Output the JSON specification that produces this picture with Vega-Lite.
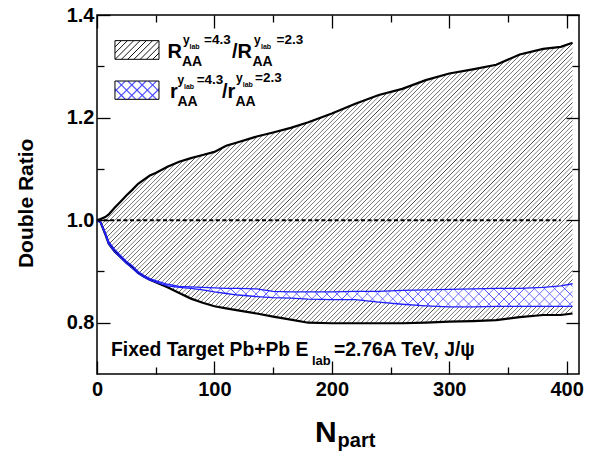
{
"$schema":"https://vega.github.io/schema/vega-lite/v6.json",
"autosize":{"type":"none"},
"padding":{"left":97,"top":15,"right":20,"bottom":80},
"width":482,"height":359,
"background":"#ffffff",
"config":{"view":{"stroke":"#000","strokeWidth":1.5}},
"data":{"values":[
{"x":0,"U":1.000,"L":1.000,"BU":1.000,"BL":1.000},
{"x":3,"U":1.002,"L":0.996,"BU":0.997,"BL":0.995},
{"x":7,"U":1.006,"L":0.973,"BU":0.976,"BL":0.972},
{"x":10,"U":1.011,"L":0.954,"BU":0.958,"BL":0.953},
{"x":15,"U":1.024,"L":0.939,"BU":0.943,"BL":0.938},
{"x":20,"U":1.036,"L":0.928,"BU":0.931,"BL":0.927},
{"x":25,"U":1.048,"L":0.917,"BU":0.920,"BL":0.916},
{"x":30,"U":1.059,"L":0.908,"BU":0.911,"BL":0.906},
{"x":35,"U":1.071,"L":0.897,"BU":0.900,"BL":0.896},
{"x":40,"U":1.079,"L":0.890,"BU":0.892,"BL":0.889},
{"x":45,"U":1.087,"L":0.884,"BU":0.886,"BL":0.883},
{"x":50,"U":1.092,"L":0.879,"BU":0.882,"BL":0.879},
{"x":60,"U":1.104,"L":0.869,"BU":0.875,"BL":0.872},
{"x":70,"U":1.114,"L":0.858,"BU":0.871,"BL":0.869},
{"x":80,"U":1.121,"L":0.847,"BU":0.870,"BL":0.867},
{"x":90,"U":1.127,"L":0.839,"BU":0.869,"BL":0.864},
{"x":100,"U":1.133,"L":0.832,"BU":0.868,"BL":0.860},
{"x":110,"U":1.145,"L":0.828,"BU":0.867,"BL":0.857},
{"x":120,"U":1.152,"L":0.824,"BU":0.867,"BL":0.854},
{"x":136,"U":1.163,"L":0.818,"BU":0.866,"BL":0.851},
{"x":150,"U":1.171,"L":0.812,"BU":0.861,"BL":0.849},
{"x":165,"U":1.180,"L":0.806,"BU":0.860,"BL":0.848},
{"x":180,"U":1.191,"L":0.800,"BU":0.860,"BL":0.846},
{"x":200,"U":1.208,"L":0.799,"BU":0.860,"BL":0.845},
{"x":220,"U":1.227,"L":0.799,"BU":0.861,"BL":0.845},
{"x":240,"U":1.244,"L":0.799,"BU":0.861,"BL":0.840},
{"x":260,"U":1.256,"L":0.799,"BU":0.863,"BL":0.836},
{"x":280,"U":1.273,"L":0.800,"BU":0.864,"BL":0.833},
{"x":300,"U":1.286,"L":0.802,"BU":0.865,"BL":0.831},
{"x":320,"U":1.294,"L":0.803,"BU":0.866,"BL":0.831},
{"x":340,"U":1.303,"L":0.805,"BU":0.867,"BL":0.832},
{"x":360,"U":1.323,"L":0.811,"BU":0.867,"BL":0.832},
{"x":380,"U":1.334,"L":0.815,"BU":0.869,"BL":0.832},
{"x":395,"U":1.338,"L":0.815,"BU":0.872,"BL":0.832},
{"x":405,"U":1.346,"L":0.818,"BU":0.876,"BL":0.832}
]},
"resolve":{"axis":{"x":"independent","y":"independent"}},
"layer":[
{"mark":{"type":"area","opacity":1,"fill":{"gradient":"linear","x1":0,"y1":0,"x2":1.1795,"y2":0.6957,"stops":[
{"offset":0,"color":"#444"},{"offset":0.001,"color":"#fff"},{"offset":0.005,"color":"#fff"},
{"offset":0.006,"color":"#444"},{"offset":0.007,"color":"#fff"},{"offset":0.011,"color":"#fff"},
{"offset":0.012,"color":"#444"},{"offset":0.013,"color":"#fff"},{"offset":0.017,"color":"#fff"},
{"offset":0.018,"color":"#444"},{"offset":0.019,"color":"#fff"},{"offset":0.023,"color":"#fff"},
{"offset":0.024,"color":"#444"},{"offset":0.025,"color":"#fff"},{"offset":0.029,"color":"#fff"},
{"offset":0.03,"color":"#444"},{"offset":0.031,"color":"#fff"},{"offset":0.035,"color":"#fff"},
{"offset":0.036,"color":"#444"},{"offset":0.037,"color":"#fff"},{"offset":0.041,"color":"#fff"},
{"offset":0.042,"color":"#444"},{"offset":0.043,"color":"#fff"},{"offset":0.047,"color":"#fff"},
{"offset":0.048,"color":"#444"},{"offset":0.049,"color":"#fff"},{"offset":0.053,"color":"#fff"},
{"offset":0.054,"color":"#444"},{"offset":0.055,"color":"#fff"},{"offset":0.059,"color":"#fff"},
{"offset":0.06,"color":"#444"},{"offset":0.061,"color":"#fff"},{"offset":0.065,"color":"#fff"},
{"offset":0.066,"color":"#444"},{"offset":0.067,"color":"#fff"},{"offset":0.071,"color":"#fff"},
{"offset":0.072,"color":"#444"},{"offset":0.073,"color":"#fff"},{"offset":0.077,"color":"#fff"},
{"offset":0.078,"color":"#444"},{"offset":0.079,"color":"#fff"},{"offset":0.083,"color":"#fff"},
{"offset":0.084,"color":"#444"},{"offset":0.085,"color":"#fff"},{"offset":0.089,"color":"#fff"},
{"offset":0.09,"color":"#444"},{"offset":0.091,"color":"#fff"},{"offset":0.095,"color":"#fff"},
{"offset":0.096,"color":"#444"},{"offset":0.097,"color":"#fff"},{"offset":0.101,"color":"#fff"},
{"offset":0.102,"color":"#444"},{"offset":0.103,"color":"#fff"},{"offset":0.107,"color":"#fff"},
{"offset":0.108,"color":"#444"},{"offset":0.109,"color":"#fff"},{"offset":0.113,"color":"#fff"},
{"offset":0.114,"color":"#444"},{"offset":0.115,"color":"#fff"},{"offset":0.119,"color":"#fff"},
{"offset":0.12,"color":"#444"},{"offset":0.121,"color":"#fff"},{"offset":0.125,"color":"#fff"},
{"offset":0.126,"color":"#444"},{"offset":0.127,"color":"#fff"},{"offset":0.131,"color":"#fff"},
{"offset":0.132,"color":"#444"},{"offset":0.133,"color":"#fff"},{"offset":0.137,"color":"#fff"},
{"offset":0.138,"color":"#444"},{"offset":0.139,"color":"#fff"},{"offset":0.143,"color":"#fff"},
{"offset":0.144,"color":"#444"},{"offset":0.145,"color":"#fff"},{"offset":0.149,"color":"#fff"},
{"offset":0.15,"color":"#444"},{"offset":0.151,"color":"#fff"},{"offset":0.155,"color":"#fff"},
{"offset":0.156,"color":"#444"},{"offset":0.157,"color":"#fff"},{"offset":0.161,"color":"#fff"},
{"offset":0.162,"color":"#444"},{"offset":0.163,"color":"#fff"},{"offset":0.167,"color":"#fff"},
{"offset":0.168,"color":"#444"},{"offset":0.169,"color":"#fff"},{"offset":0.173,"color":"#fff"},
{"offset":0.174,"color":"#444"},{"offset":0.175,"color":"#fff"},{"offset":0.179,"color":"#fff"},
{"offset":0.18,"color":"#444"},{"offset":0.181,"color":"#fff"},{"offset":0.185,"color":"#fff"},
{"offset":0.186,"color":"#444"},{"offset":0.187,"color":"#fff"},{"offset":0.191,"color":"#fff"},
{"offset":0.192,"color":"#444"},{"offset":0.193,"color":"#fff"},{"offset":0.197,"color":"#fff"},
{"offset":0.198,"color":"#444"},{"offset":0.199,"color":"#fff"},{"offset":0.203,"color":"#fff"},
{"offset":0.204,"color":"#444"},{"offset":0.205,"color":"#fff"},{"offset":0.209,"color":"#fff"},
{"offset":0.21,"color":"#444"},{"offset":0.211,"color":"#fff"},{"offset":0.215,"color":"#fff"},
{"offset":0.216,"color":"#444"},{"offset":0.217,"color":"#fff"},{"offset":0.221,"color":"#fff"},
{"offset":0.222,"color":"#444"},{"offset":0.223,"color":"#fff"},{"offset":0.227,"color":"#fff"},
{"offset":0.228,"color":"#444"},{"offset":0.229,"color":"#fff"},{"offset":0.233,"color":"#fff"},
{"offset":0.234,"color":"#444"},{"offset":0.235,"color":"#fff"},{"offset":0.239,"color":"#fff"},
{"offset":0.24,"color":"#444"},{"offset":0.241,"color":"#fff"},{"offset":0.245,"color":"#fff"},
{"offset":0.246,"color":"#444"},{"offset":0.247,"color":"#fff"},{"offset":0.251,"color":"#fff"},
{"offset":0.252,"color":"#444"},{"offset":0.253,"color":"#fff"},{"offset":0.257,"color":"#fff"},
{"offset":0.258,"color":"#444"},{"offset":0.259,"color":"#fff"},{"offset":0.263,"color":"#fff"},
{"offset":0.264,"color":"#444"},{"offset":0.265,"color":"#fff"},{"offset":0.269,"color":"#fff"},
{"offset":0.27,"color":"#444"},{"offset":0.271,"color":"#fff"},{"offset":0.275,"color":"#fff"},
{"offset":0.276,"color":"#444"},{"offset":0.277,"color":"#fff"},{"offset":0.281,"color":"#fff"},
{"offset":0.282,"color":"#444"},{"offset":0.283,"color":"#fff"},{"offset":0.287,"color":"#fff"},
{"offset":0.288,"color":"#444"},{"offset":0.289,"color":"#fff"},{"offset":0.293,"color":"#fff"},
{"offset":0.294,"color":"#444"},{"offset":0.295,"color":"#fff"},{"offset":0.299,"color":"#fff"},
{"offset":0.3,"color":"#444"},{"offset":0.301,"color":"#fff"},{"offset":0.305,"color":"#fff"},
{"offset":0.306,"color":"#444"},{"offset":0.307,"color":"#fff"},{"offset":0.311,"color":"#fff"},
{"offset":0.312,"color":"#444"},{"offset":0.313,"color":"#fff"},{"offset":0.317,"color":"#fff"},
{"offset":0.318,"color":"#444"},{"offset":0.319,"color":"#fff"},{"offset":0.323,"color":"#fff"},
{"offset":0.324,"color":"#444"},{"offset":0.325,"color":"#fff"},{"offset":0.329,"color":"#fff"},
{"offset":0.33,"color":"#444"},{"offset":0.331,"color":"#fff"},{"offset":0.335,"color":"#fff"},
{"offset":0.336,"color":"#444"},{"offset":0.337,"color":"#fff"},{"offset":0.341,"color":"#fff"},
{"offset":0.342,"color":"#444"},{"offset":0.343,"color":"#fff"},{"offset":0.347,"color":"#fff"},
{"offset":0.348,"color":"#444"},{"offset":0.349,"color":"#fff"},{"offset":0.353,"color":"#fff"},
{"offset":0.354,"color":"#444"},{"offset":0.355,"color":"#fff"},{"offset":0.359,"color":"#fff"},
{"offset":0.36,"color":"#444"},{"offset":0.361,"color":"#fff"},{"offset":0.365,"color":"#fff"},
{"offset":0.366,"color":"#444"},{"offset":0.367,"color":"#fff"},{"offset":0.371,"color":"#fff"},
{"offset":0.372,"color":"#444"},{"offset":0.373,"color":"#fff"},{"offset":0.377,"color":"#fff"},
{"offset":0.378,"color":"#444"},{"offset":0.379,"color":"#fff"},{"offset":0.383,"color":"#fff"},
{"offset":0.384,"color":"#444"},{"offset":0.385,"color":"#fff"},{"offset":0.389,"color":"#fff"},
{"offset":0.39,"color":"#444"},{"offset":0.391,"color":"#fff"},{"offset":0.395,"color":"#fff"},
{"offset":0.396,"color":"#444"},{"offset":0.397,"color":"#fff"},{"offset":0.401,"color":"#fff"},
{"offset":0.402,"color":"#444"},{"offset":0.403,"color":"#fff"},{"offset":0.407,"color":"#fff"},
{"offset":0.408,"color":"#444"},{"offset":0.409,"color":"#fff"},{"offset":0.413,"color":"#fff"},
{"offset":0.414,"color":"#444"},{"offset":0.415,"color":"#fff"},{"offset":0.419,"color":"#fff"},
{"offset":0.42,"color":"#444"},{"offset":0.421,"color":"#fff"},{"offset":0.425,"color":"#fff"},
{"offset":0.426,"color":"#444"},{"offset":0.427,"color":"#fff"},{"offset":0.431,"color":"#fff"},
{"offset":0.432,"color":"#444"},{"offset":0.433,"color":"#fff"},{"offset":0.437,"color":"#fff"},
{"offset":0.438,"color":"#444"},{"offset":0.439,"color":"#fff"},{"offset":0.443,"color":"#fff"},
{"offset":0.444,"color":"#444"},{"offset":0.445,"color":"#fff"},{"offset":0.449,"color":"#fff"},
{"offset":0.45,"color":"#444"},{"offset":0.451,"color":"#fff"},{"offset":0.455,"color":"#fff"},
{"offset":0.456,"color":"#444"},{"offset":0.457,"color":"#fff"},{"offset":0.461,"color":"#fff"},
{"offset":0.462,"color":"#444"},{"offset":0.463,"color":"#fff"},{"offset":0.467,"color":"#fff"},
{"offset":0.468,"color":"#444"},{"offset":0.469,"color":"#fff"},{"offset":0.473,"color":"#fff"},
{"offset":0.474,"color":"#444"},{"offset":0.475,"color":"#fff"},{"offset":0.479,"color":"#fff"},
{"offset":0.48,"color":"#444"},{"offset":0.481,"color":"#fff"},{"offset":0.485,"color":"#fff"},
{"offset":0.486,"color":"#444"},{"offset":0.487,"color":"#fff"},{"offset":0.491,"color":"#fff"},
{"offset":0.492,"color":"#444"},{"offset":0.493,"color":"#fff"},{"offset":0.497,"color":"#fff"},
{"offset":0.498,"color":"#444"},{"offset":0.499,"color":"#fff"},{"offset":0.503,"color":"#fff"},
{"offset":0.504,"color":"#444"},{"offset":0.505,"color":"#fff"},{"offset":0.509,"color":"#fff"},
{"offset":0.51,"color":"#444"},{"offset":0.511,"color":"#fff"},{"offset":0.515,"color":"#fff"},
{"offset":0.516,"color":"#444"},{"offset":0.517,"color":"#fff"},{"offset":0.521,"color":"#fff"},
{"offset":0.522,"color":"#444"},{"offset":0.523,"color":"#fff"},{"offset":0.527,"color":"#fff"},
{"offset":0.528,"color":"#444"},{"offset":0.529,"color":"#fff"},{"offset":0.533,"color":"#fff"},
{"offset":0.534,"color":"#444"},{"offset":0.535,"color":"#fff"},{"offset":0.539,"color":"#fff"},
{"offset":0.54,"color":"#444"},{"offset":0.541,"color":"#fff"},{"offset":0.545,"color":"#fff"},
{"offset":0.546,"color":"#444"},{"offset":0.547,"color":"#fff"},{"offset":0.551,"color":"#fff"},
{"offset":0.552,"color":"#444"},{"offset":0.553,"color":"#fff"},{"offset":0.557,"color":"#fff"},
{"offset":0.558,"color":"#444"},{"offset":0.559,"color":"#fff"},{"offset":0.563,"color":"#fff"},
{"offset":0.564,"color":"#444"},{"offset":0.565,"color":"#fff"},{"offset":0.569,"color":"#fff"},
{"offset":0.57,"color":"#444"},{"offset":0.571,"color":"#fff"},{"offset":0.575,"color":"#fff"},
{"offset":0.576,"color":"#444"},{"offset":0.577,"color":"#fff"},{"offset":0.581,"color":"#fff"},
{"offset":0.582,"color":"#444"},{"offset":0.583,"color":"#fff"},{"offset":0.587,"color":"#fff"},
{"offset":0.588,"color":"#444"},{"offset":0.589,"color":"#fff"},{"offset":0.593,"color":"#fff"},
{"offset":0.594,"color":"#444"},{"offset":0.595,"color":"#fff"},{"offset":0.599,"color":"#fff"},
{"offset":0.6,"color":"#444"},{"offset":0.601,"color":"#fff"},{"offset":0.605,"color":"#fff"},
{"offset":0.606,"color":"#444"},{"offset":0.607,"color":"#fff"},{"offset":0.611,"color":"#fff"},
{"offset":0.612,"color":"#444"},{"offset":0.613,"color":"#fff"},{"offset":0.617,"color":"#fff"},
{"offset":0.618,"color":"#444"},{"offset":0.619,"color":"#fff"},{"offset":0.623,"color":"#fff"},
{"offset":0.624,"color":"#444"},{"offset":0.625,"color":"#fff"},{"offset":0.629,"color":"#fff"},
{"offset":0.63,"color":"#444"},{"offset":0.631,"color":"#fff"},{"offset":0.635,"color":"#fff"},
{"offset":0.636,"color":"#444"},{"offset":0.637,"color":"#fff"},{"offset":0.641,"color":"#fff"},
{"offset":0.642,"color":"#444"},{"offset":0.643,"color":"#fff"},{"offset":0.647,"color":"#fff"},
{"offset":0.648,"color":"#444"},{"offset":0.649,"color":"#fff"},{"offset":0.653,"color":"#fff"},
{"offset":0.654,"color":"#444"},{"offset":0.655,"color":"#fff"},{"offset":0.659,"color":"#fff"},
{"offset":0.66,"color":"#444"},{"offset":0.661,"color":"#fff"},{"offset":0.665,"color":"#fff"},
{"offset":0.666,"color":"#444"},{"offset":0.667,"color":"#fff"},{"offset":0.671,"color":"#fff"},
{"offset":0.672,"color":"#444"},{"offset":0.673,"color":"#fff"},{"offset":0.677,"color":"#fff"},
{"offset":0.678,"color":"#444"},{"offset":0.679,"color":"#fff"},{"offset":0.683,"color":"#fff"},
{"offset":0.684,"color":"#444"},{"offset":0.685,"color":"#fff"},{"offset":0.689,"color":"#fff"},
{"offset":0.69,"color":"#444"},{"offset":0.691,"color":"#fff"},{"offset":0.695,"color":"#fff"},
{"offset":0.696,"color":"#444"},{"offset":0.697,"color":"#fff"},{"offset":0.701,"color":"#fff"},
{"offset":0.702,"color":"#444"},{"offset":0.703,"color":"#fff"},{"offset":0.707,"color":"#fff"},
{"offset":0.708,"color":"#444"},{"offset":0.709,"color":"#fff"},{"offset":0.713,"color":"#fff"},
{"offset":0.714,"color":"#444"},{"offset":0.715,"color":"#fff"},{"offset":0.719,"color":"#fff"},
{"offset":0.72,"color":"#444"},{"offset":0.721,"color":"#fff"},{"offset":0.725,"color":"#fff"},
{"offset":0.726,"color":"#444"},{"offset":0.727,"color":"#fff"},{"offset":0.731,"color":"#fff"},
{"offset":0.732,"color":"#444"},{"offset":0.733,"color":"#fff"},{"offset":0.737,"color":"#fff"},
{"offset":0.738,"color":"#444"},{"offset":0.739,"color":"#fff"},{"offset":0.743,"color":"#fff"},
{"offset":0.744,"color":"#444"},{"offset":0.745,"color":"#fff"},{"offset":0.749,"color":"#fff"},
{"offset":0.75,"color":"#444"},{"offset":0.751,"color":"#fff"},{"offset":0.755,"color":"#fff"},
{"offset":0.756,"color":"#444"},{"offset":0.757,"color":"#fff"},{"offset":0.761,"color":"#fff"},
{"offset":0.762,"color":"#444"},{"offset":0.763,"color":"#fff"},{"offset":0.767,"color":"#fff"},
{"offset":0.768,"color":"#444"},{"offset":0.769,"color":"#fff"},{"offset":0.773,"color":"#fff"},
{"offset":0.774,"color":"#444"},{"offset":0.775,"color":"#fff"},{"offset":0.779,"color":"#fff"},
{"offset":0.78,"color":"#444"},{"offset":0.781,"color":"#fff"},{"offset":0.785,"color":"#fff"},
{"offset":0.786,"color":"#444"},{"offset":0.787,"color":"#fff"},{"offset":0.791,"color":"#fff"},
{"offset":0.792,"color":"#444"},{"offset":0.793,"color":"#fff"},{"offset":0.797,"color":"#fff"},
{"offset":0.798,"color":"#444"},{"offset":0.799,"color":"#fff"},{"offset":0.803,"color":"#fff"},
{"offset":0.804,"color":"#444"},{"offset":0.805,"color":"#fff"},{"offset":0.809,"color":"#fff"},
{"offset":0.81,"color":"#444"},{"offset":0.811,"color":"#fff"},{"offset":0.815,"color":"#fff"},
{"offset":0.816,"color":"#444"},{"offset":0.817,"color":"#fff"},{"offset":0.821,"color":"#fff"},
{"offset":0.822,"color":"#444"},{"offset":0.823,"color":"#fff"},{"offset":0.827,"color":"#fff"},
{"offset":0.828,"color":"#444"},{"offset":0.829,"color":"#fff"},{"offset":0.833,"color":"#fff"},
{"offset":0.834,"color":"#444"},{"offset":0.835,"color":"#fff"},{"offset":0.839,"color":"#fff"},
{"offset":0.84,"color":"#444"},{"offset":0.841,"color":"#fff"},{"offset":0.845,"color":"#fff"},
{"offset":0.846,"color":"#444"},{"offset":0.847,"color":"#fff"},{"offset":0.851,"color":"#fff"},
{"offset":0.852,"color":"#444"},{"offset":0.853,"color":"#fff"},{"offset":0.857,"color":"#fff"},
{"offset":0.858,"color":"#444"},{"offset":0.859,"color":"#fff"},{"offset":0.863,"color":"#fff"},
{"offset":0.864,"color":"#444"},{"offset":0.865,"color":"#fff"},{"offset":0.869,"color":"#fff"},
{"offset":0.87,"color":"#444"},{"offset":0.871,"color":"#fff"},{"offset":0.875,"color":"#fff"},
{"offset":0.876,"color":"#444"},{"offset":0.877,"color":"#fff"},{"offset":0.881,"color":"#fff"},
{"offset":0.882,"color":"#444"},{"offset":0.883,"color":"#fff"},{"offset":0.887,"color":"#fff"},
{"offset":0.888,"color":"#444"},{"offset":0.889,"color":"#fff"},{"offset":0.893,"color":"#fff"},
{"offset":0.894,"color":"#444"},{"offset":0.895,"color":"#fff"},{"offset":0.899,"color":"#fff"},
{"offset":0.9,"color":"#444"},{"offset":0.901,"color":"#fff"},{"offset":0.905,"color":"#fff"},
{"offset":0.906,"color":"#444"},{"offset":0.907,"color":"#fff"},{"offset":0.911,"color":"#fff"},
{"offset":0.912,"color":"#444"},{"offset":0.913,"color":"#fff"},{"offset":0.917,"color":"#fff"},
{"offset":0.918,"color":"#444"},{"offset":0.919,"color":"#fff"},{"offset":0.923,"color":"#fff"},
{"offset":0.924,"color":"#444"},{"offset":0.925,"color":"#fff"},{"offset":0.929,"color":"#fff"},
{"offset":0.93,"color":"#444"},{"offset":0.931,"color":"#fff"},{"offset":0.935,"color":"#fff"},
{"offset":0.936,"color":"#444"},{"offset":0.937,"color":"#fff"},{"offset":0.941,"color":"#fff"},
{"offset":0.942,"color":"#444"},{"offset":0.943,"color":"#fff"},{"offset":0.947,"color":"#fff"},
{"offset":0.948,"color":"#444"},{"offset":0.949,"color":"#fff"},{"offset":0.953,"color":"#fff"},
{"offset":0.954,"color":"#444"},{"offset":0.955,"color":"#fff"},{"offset":0.959,"color":"#fff"},
{"offset":0.96,"color":"#444"},{"offset":0.961,"color":"#fff"},{"offset":0.965,"color":"#fff"},
{"offset":0.966,"color":"#444"},{"offset":0.967,"color":"#fff"},{"offset":0.971,"color":"#fff"},
{"offset":0.972,"color":"#444"},{"offset":0.973,"color":"#fff"},{"offset":0.977,"color":"#fff"},
{"offset":0.978,"color":"#444"},{"offset":0.979,"color":"#fff"},{"offset":0.983,"color":"#fff"},
{"offset":0.984,"color":"#444"},{"offset":0.985,"color":"#fff"},{"offset":0.989,"color":"#fff"},
{"offset":0.99,"color":"#444"},{"offset":0.991,"color":"#fff"},{"offset":0.995,"color":"#fff"},
{"offset":0.996,"color":"#444"},{"offset":0.997,"color":"#fff"},{"offset":1,"color":"#fff"}
]}},
"encoding":{
"x":{"field":"x","type":"quantitative","scale":{"domain":[0,410.5],"nice":false,"zero":false},"axis":{"orient":"bottom","values":[0,100,200,300,400],"offset":-13,"tickSize":13,"tickWidth":1.3,"tickColor":"#000","domain":false,"grid":false,"labelFont":"Liberation Sans","labelFontWeight":"bold","labelFontSize":20,"labelColor":"#000","labelPadding":5,"labelBaseline":"top","labelFlush":false,"labelOverlap":false,"labelBound":false,"title":null,"format":"d","zindex":1}},
"y":{"field":"U","type":"quantitative","scale":{"domain":[0.7,1.4],"nice":false,"zero":false},"axis":{"orient":"left","values":[0.8,1.0,1.2,1.4],"offset":-13,"tickSize":13,"tickWidth":1.3,"tickColor":"#000","domain":false,"grid":false,"labelFont":"Liberation Sans","labelFontWeight":"bold","labelFontSize":20,"labelColor":"#000","labelPadding":3,"labelBaseline":"middle","labelFlush":false,"labelOverlap":false,"labelBound":false,"title":null,"format":".1f","zindex":1}},
"y2":{"field":"L"}
}},
{"mark":{"type":"area","opacity":1,"fill":{"gradient":"linear","x1":0,"y1":1,"x2":1.1443,"y2":0.7914,"stops":[
{"offset":0,"color":"#5050ff"},{"offset":0.0015,"color":"#fff"},{"offset":0.0165,"color":"#fff"},
{"offset":0.018,"color":"#5050ff"},{"offset":0.0195,"color":"#fff"},{"offset":0.0345,"color":"#fff"},
{"offset":0.036,"color":"#5050ff"},{"offset":0.0375,"color":"#fff"},{"offset":0.0525,"color":"#fff"},
{"offset":0.054,"color":"#5050ff"},{"offset":0.0555,"color":"#fff"},{"offset":0.0705,"color":"#fff"},
{"offset":0.072,"color":"#5050ff"},{"offset":0.0735,"color":"#fff"},{"offset":0.0885,"color":"#fff"},
{"offset":0.09,"color":"#5050ff"},{"offset":0.0915,"color":"#fff"},{"offset":0.1065,"color":"#fff"},
{"offset":0.108,"color":"#5050ff"},{"offset":0.1095,"color":"#fff"},{"offset":0.1245,"color":"#fff"},
{"offset":0.126,"color":"#5050ff"},{"offset":0.1275,"color":"#fff"},{"offset":0.1425,"color":"#fff"},
{"offset":0.144,"color":"#5050ff"},{"offset":0.1455,"color":"#fff"},{"offset":0.1605,"color":"#fff"},
{"offset":0.162,"color":"#5050ff"},{"offset":0.1635,"color":"#fff"},{"offset":0.1785,"color":"#fff"},
{"offset":0.18,"color":"#5050ff"},{"offset":0.1815,"color":"#fff"},{"offset":0.1965,"color":"#fff"},
{"offset":0.198,"color":"#5050ff"},{"offset":0.1995,"color":"#fff"},{"offset":0.2145,"color":"#fff"},
{"offset":0.216,"color":"#5050ff"},{"offset":0.2175,"color":"#fff"},{"offset":0.2325,"color":"#fff"},
{"offset":0.234,"color":"#5050ff"},{"offset":0.2355,"color":"#fff"},{"offset":0.2505,"color":"#fff"},
{"offset":0.252,"color":"#5050ff"},{"offset":0.2535,"color":"#fff"},{"offset":0.2685,"color":"#fff"},
{"offset":0.27,"color":"#5050ff"},{"offset":0.2715,"color":"#fff"},{"offset":0.2865,"color":"#fff"},
{"offset":0.288,"color":"#5050ff"},{"offset":0.2895,"color":"#fff"},{"offset":0.3045,"color":"#fff"},
{"offset":0.306,"color":"#5050ff"},{"offset":0.3075,"color":"#fff"},{"offset":0.3225,"color":"#fff"},
{"offset":0.324,"color":"#5050ff"},{"offset":0.3255,"color":"#fff"},{"offset":0.3405,"color":"#fff"},
{"offset":0.342,"color":"#5050ff"},{"offset":0.3435,"color":"#fff"},{"offset":0.3585,"color":"#fff"},
{"offset":0.36,"color":"#5050ff"},{"offset":0.3615,"color":"#fff"},{"offset":0.3765,"color":"#fff"},
{"offset":0.378,"color":"#5050ff"},{"offset":0.3795,"color":"#fff"},{"offset":0.3945,"color":"#fff"},
{"offset":0.396,"color":"#5050ff"},{"offset":0.3975,"color":"#fff"},{"offset":0.4125,"color":"#fff"},
{"offset":0.414,"color":"#5050ff"},{"offset":0.4155,"color":"#fff"},{"offset":0.4305,"color":"#fff"},
{"offset":0.432,"color":"#5050ff"},{"offset":0.4335,"color":"#fff"},{"offset":0.4485,"color":"#fff"},
{"offset":0.45,"color":"#5050ff"},{"offset":0.4515,"color":"#fff"},{"offset":0.4665,"color":"#fff"},
{"offset":0.468,"color":"#5050ff"},{"offset":0.4695,"color":"#fff"},{"offset":0.4845,"color":"#fff"},
{"offset":0.486,"color":"#5050ff"},{"offset":0.4875,"color":"#fff"},{"offset":0.5025,"color":"#fff"},
{"offset":0.504,"color":"#5050ff"},{"offset":0.5055,"color":"#fff"},{"offset":0.5205,"color":"#fff"},
{"offset":0.522,"color":"#5050ff"},{"offset":0.5235,"color":"#fff"},{"offset":0.5385,"color":"#fff"},
{"offset":0.54,"color":"#5050ff"},{"offset":0.5415,"color":"#fff"},{"offset":0.5565,"color":"#fff"},
{"offset":0.558,"color":"#5050ff"},{"offset":0.5595,"color":"#fff"},{"offset":0.5745,"color":"#fff"},
{"offset":0.576,"color":"#5050ff"},{"offset":0.5775,"color":"#fff"},{"offset":0.5925,"color":"#fff"},
{"offset":0.594,"color":"#5050ff"},{"offset":0.5955,"color":"#fff"},{"offset":0.6105,"color":"#fff"},
{"offset":0.612,"color":"#5050ff"},{"offset":0.6135,"color":"#fff"},{"offset":0.6285,"color":"#fff"},
{"offset":0.63,"color":"#5050ff"},{"offset":0.6315,"color":"#fff"},{"offset":0.6465,"color":"#fff"},
{"offset":0.648,"color":"#5050ff"},{"offset":0.6495,"color":"#fff"},{"offset":0.6645,"color":"#fff"},
{"offset":0.666,"color":"#5050ff"},{"offset":0.6675,"color":"#fff"},{"offset":0.6825,"color":"#fff"},
{"offset":0.684,"color":"#5050ff"},{"offset":0.6855,"color":"#fff"},{"offset":0.7005,"color":"#fff"},
{"offset":0.702,"color":"#5050ff"},{"offset":0.7035,"color":"#fff"},{"offset":0.7185,"color":"#fff"},
{"offset":0.72,"color":"#5050ff"},{"offset":0.7215,"color":"#fff"},{"offset":0.7365,"color":"#fff"},
{"offset":0.738,"color":"#5050ff"},{"offset":0.7395,"color":"#fff"},{"offset":0.7545,"color":"#fff"},
{"offset":0.756,"color":"#5050ff"},{"offset":0.7575,"color":"#fff"},{"offset":0.7725,"color":"#fff"},
{"offset":0.774,"color":"#5050ff"},{"offset":0.7755,"color":"#fff"},{"offset":0.7905,"color":"#fff"},
{"offset":0.792,"color":"#5050ff"},{"offset":0.7935,"color":"#fff"},{"offset":0.8085,"color":"#fff"},
{"offset":0.81,"color":"#5050ff"},{"offset":0.8115,"color":"#fff"},{"offset":0.8265,"color":"#fff"},
{"offset":0.828,"color":"#5050ff"},{"offset":0.8295,"color":"#fff"},{"offset":0.8445,"color":"#fff"},
{"offset":0.846,"color":"#5050ff"},{"offset":0.8475,"color":"#fff"},{"offset":0.8625,"color":"#fff"},
{"offset":0.864,"color":"#5050ff"},{"offset":0.8655,"color":"#fff"},{"offset":0.8805,"color":"#fff"},
{"offset":0.882,"color":"#5050ff"},{"offset":0.8835,"color":"#fff"},{"offset":0.8985,"color":"#fff"},
{"offset":0.9,"color":"#5050ff"},{"offset":0.9015,"color":"#fff"},{"offset":0.9165,"color":"#fff"},
{"offset":0.918,"color":"#5050ff"},{"offset":0.9195,"color":"#fff"},{"offset":0.9345,"color":"#fff"},
{"offset":0.936,"color":"#5050ff"},{"offset":0.9375,"color":"#fff"},{"offset":0.9525,"color":"#fff"},
{"offset":0.954,"color":"#5050ff"},{"offset":0.9555,"color":"#fff"},{"offset":0.9705,"color":"#fff"},
{"offset":0.972,"color":"#5050ff"},{"offset":0.9735,"color":"#fff"},{"offset":0.9885,"color":"#fff"},
{"offset":0.99,"color":"#5050ff"},{"offset":0.9915,"color":"#fff"},{"offset":1,"color":"#fff"}
]}},
"encoding":{
"x":{"field":"x","type":"quantitative","axis":{"orient":"bottom","values":[50,150,250,350],"offset":-7,"tickSize":7,"tickWidth":1.3,"tickColor":"#000","domain":false,"grid":false,"labels":false,"title":null,"zindex":1}},
"y":{"field":"BU","type":"quantitative","axis":{"orient":"left","values":[0.9,1.1,1.3],"offset":-7,"tickSize":7,"tickWidth":1.3,"tickColor":"#000","domain":false,"grid":false,"labels":false,"title":null,"zindex":1}},
"y2":{"field":"BL"}
}},
{"mark":{"type":"area","opacity":1,"fill":{"gradient":"linear","x1":0,"y1":0,"x2":1.1443,"y2":0.2086,"stops":[
{"offset":0,"color":"#5050ff"},{"offset":0.0015,"color":"rgba(80,80,255,0)"},{"offset":0.0165,"color":"rgba(80,80,255,0)"},
{"offset":0.018,"color":"#5050ff"},{"offset":0.0195,"color":"rgba(80,80,255,0)"},{"offset":0.0345,"color":"rgba(80,80,255,0)"},
{"offset":0.036,"color":"#5050ff"},{"offset":0.0375,"color":"rgba(80,80,255,0)"},{"offset":0.0525,"color":"rgba(80,80,255,0)"},
{"offset":0.054,"color":"#5050ff"},{"offset":0.0555,"color":"rgba(80,80,255,0)"},{"offset":0.0705,"color":"rgba(80,80,255,0)"},
{"offset":0.072,"color":"#5050ff"},{"offset":0.0735,"color":"rgba(80,80,255,0)"},{"offset":0.0885,"color":"rgba(80,80,255,0)"},
{"offset":0.09,"color":"#5050ff"},{"offset":0.0915,"color":"rgba(80,80,255,0)"},{"offset":0.1065,"color":"rgba(80,80,255,0)"},
{"offset":0.108,"color":"#5050ff"},{"offset":0.1095,"color":"rgba(80,80,255,0)"},{"offset":0.1245,"color":"rgba(80,80,255,0)"},
{"offset":0.126,"color":"#5050ff"},{"offset":0.1275,"color":"rgba(80,80,255,0)"},{"offset":0.1425,"color":"rgba(80,80,255,0)"},
{"offset":0.144,"color":"#5050ff"},{"offset":0.1455,"color":"rgba(80,80,255,0)"},{"offset":0.1605,"color":"rgba(80,80,255,0)"},
{"offset":0.162,"color":"#5050ff"},{"offset":0.1635,"color":"rgba(80,80,255,0)"},{"offset":0.1785,"color":"rgba(80,80,255,0)"},
{"offset":0.18,"color":"#5050ff"},{"offset":0.1815,"color":"rgba(80,80,255,0)"},{"offset":0.1965,"color":"rgba(80,80,255,0)"},
{"offset":0.198,"color":"#5050ff"},{"offset":0.1995,"color":"rgba(80,80,255,0)"},{"offset":0.2145,"color":"rgba(80,80,255,0)"},
{"offset":0.216,"color":"#5050ff"},{"offset":0.2175,"color":"rgba(80,80,255,0)"},{"offset":0.2325,"color":"rgba(80,80,255,0)"},
{"offset":0.234,"color":"#5050ff"},{"offset":0.2355,"color":"rgba(80,80,255,0)"},{"offset":0.2505,"color":"rgba(80,80,255,0)"},
{"offset":0.252,"color":"#5050ff"},{"offset":0.2535,"color":"rgba(80,80,255,0)"},{"offset":0.2685,"color":"rgba(80,80,255,0)"},
{"offset":0.27,"color":"#5050ff"},{"offset":0.2715,"color":"rgba(80,80,255,0)"},{"offset":0.2865,"color":"rgba(80,80,255,0)"},
{"offset":0.288,"color":"#5050ff"},{"offset":0.2895,"color":"rgba(80,80,255,0)"},{"offset":0.3045,"color":"rgba(80,80,255,0)"},
{"offset":0.306,"color":"#5050ff"},{"offset":0.3075,"color":"rgba(80,80,255,0)"},{"offset":0.3225,"color":"rgba(80,80,255,0)"},
{"offset":0.324,"color":"#5050ff"},{"offset":0.3255,"color":"rgba(80,80,255,0)"},{"offset":0.3405,"color":"rgba(80,80,255,0)"},
{"offset":0.342,"color":"#5050ff"},{"offset":0.3435,"color":"rgba(80,80,255,0)"},{"offset":0.3585,"color":"rgba(80,80,255,0)"},
{"offset":0.36,"color":"#5050ff"},{"offset":0.3615,"color":"rgba(80,80,255,0)"},{"offset":0.3765,"color":"rgba(80,80,255,0)"},
{"offset":0.378,"color":"#5050ff"},{"offset":0.3795,"color":"rgba(80,80,255,0)"},{"offset":0.3945,"color":"rgba(80,80,255,0)"},
{"offset":0.396,"color":"#5050ff"},{"offset":0.3975,"color":"rgba(80,80,255,0)"},{"offset":0.4125,"color":"rgba(80,80,255,0)"},
{"offset":0.414,"color":"#5050ff"},{"offset":0.4155,"color":"rgba(80,80,255,0)"},{"offset":0.4305,"color":"rgba(80,80,255,0)"},
{"offset":0.432,"color":"#5050ff"},{"offset":0.4335,"color":"rgba(80,80,255,0)"},{"offset":0.4485,"color":"rgba(80,80,255,0)"},
{"offset":0.45,"color":"#5050ff"},{"offset":0.4515,"color":"rgba(80,80,255,0)"},{"offset":0.4665,"color":"rgba(80,80,255,0)"},
{"offset":0.468,"color":"#5050ff"},{"offset":0.4695,"color":"rgba(80,80,255,0)"},{"offset":0.4845,"color":"rgba(80,80,255,0)"},
{"offset":0.486,"color":"#5050ff"},{"offset":0.4875,"color":"rgba(80,80,255,0)"},{"offset":0.5025,"color":"rgba(80,80,255,0)"},
{"offset":0.504,"color":"#5050ff"},{"offset":0.5055,"color":"rgba(80,80,255,0)"},{"offset":0.5205,"color":"rgba(80,80,255,0)"},
{"offset":0.522,"color":"#5050ff"},{"offset":0.5235,"color":"rgba(80,80,255,0)"},{"offset":0.5385,"color":"rgba(80,80,255,0)"},
{"offset":0.54,"color":"#5050ff"},{"offset":0.5415,"color":"rgba(80,80,255,0)"},{"offset":0.5565,"color":"rgba(80,80,255,0)"},
{"offset":0.558,"color":"#5050ff"},{"offset":0.5595,"color":"rgba(80,80,255,0)"},{"offset":0.5745,"color":"rgba(80,80,255,0)"},
{"offset":0.576,"color":"#5050ff"},{"offset":0.5775,"color":"rgba(80,80,255,0)"},{"offset":0.5925,"color":"rgba(80,80,255,0)"},
{"offset":0.594,"color":"#5050ff"},{"offset":0.5955,"color":"rgba(80,80,255,0)"},{"offset":0.6105,"color":"rgba(80,80,255,0)"},
{"offset":0.612,"color":"#5050ff"},{"offset":0.6135,"color":"rgba(80,80,255,0)"},{"offset":0.6285,"color":"rgba(80,80,255,0)"},
{"offset":0.63,"color":"#5050ff"},{"offset":0.6315,"color":"rgba(80,80,255,0)"},{"offset":0.6465,"color":"rgba(80,80,255,0)"},
{"offset":0.648,"color":"#5050ff"},{"offset":0.6495,"color":"rgba(80,80,255,0)"},{"offset":0.6645,"color":"rgba(80,80,255,0)"},
{"offset":0.666,"color":"#5050ff"},{"offset":0.6675,"color":"rgba(80,80,255,0)"},{"offset":0.6825,"color":"rgba(80,80,255,0)"},
{"offset":0.684,"color":"#5050ff"},{"offset":0.6855,"color":"rgba(80,80,255,0)"},{"offset":0.7005,"color":"rgba(80,80,255,0)"},
{"offset":0.702,"color":"#5050ff"},{"offset":0.7035,"color":"rgba(80,80,255,0)"},{"offset":0.7185,"color":"rgba(80,80,255,0)"},
{"offset":0.72,"color":"#5050ff"},{"offset":0.7215,"color":"rgba(80,80,255,0)"},{"offset":0.7365,"color":"rgba(80,80,255,0)"},
{"offset":0.738,"color":"#5050ff"},{"offset":0.7395,"color":"rgba(80,80,255,0)"},{"offset":0.7545,"color":"rgba(80,80,255,0)"},
{"offset":0.756,"color":"#5050ff"},{"offset":0.7575,"color":"rgba(80,80,255,0)"},{"offset":0.7725,"color":"rgba(80,80,255,0)"},
{"offset":0.774,"color":"#5050ff"},{"offset":0.7755,"color":"rgba(80,80,255,0)"},{"offset":0.7905,"color":"rgba(80,80,255,0)"},
{"offset":0.792,"color":"#5050ff"},{"offset":0.7935,"color":"rgba(80,80,255,0)"},{"offset":0.8085,"color":"rgba(80,80,255,0)"},
{"offset":0.81,"color":"#5050ff"},{"offset":0.8115,"color":"rgba(80,80,255,0)"},{"offset":0.8265,"color":"rgba(80,80,255,0)"},
{"offset":0.828,"color":"#5050ff"},{"offset":0.8295,"color":"rgba(80,80,255,0)"},{"offset":0.8445,"color":"rgba(80,80,255,0)"},
{"offset":0.846,"color":"#5050ff"},{"offset":0.8475,"color":"rgba(80,80,255,0)"},{"offset":0.8625,"color":"rgba(80,80,255,0)"},
{"offset":0.864,"color":"#5050ff"},{"offset":0.8655,"color":"rgba(80,80,255,0)"},{"offset":0.8805,"color":"rgba(80,80,255,0)"},
{"offset":0.882,"color":"#5050ff"},{"offset":0.8835,"color":"rgba(80,80,255,0)"},{"offset":0.8985,"color":"rgba(80,80,255,0)"},
{"offset":0.9,"color":"#5050ff"},{"offset":0.9015,"color":"rgba(80,80,255,0)"},{"offset":0.9165,"color":"rgba(80,80,255,0)"},
{"offset":0.918,"color":"#5050ff"},{"offset":0.9195,"color":"rgba(80,80,255,0)"},{"offset":0.9345,"color":"rgba(80,80,255,0)"},
{"offset":0.936,"color":"#5050ff"},{"offset":0.9375,"color":"rgba(80,80,255,0)"},{"offset":0.9525,"color":"rgba(80,80,255,0)"},
{"offset":0.954,"color":"#5050ff"},{"offset":0.9555,"color":"rgba(80,80,255,0)"},{"offset":0.9705,"color":"rgba(80,80,255,0)"},
{"offset":0.972,"color":"#5050ff"},{"offset":0.9735,"color":"rgba(80,80,255,0)"},{"offset":0.9885,"color":"rgba(80,80,255,0)"},
{"offset":0.99,"color":"#5050ff"},{"offset":0.9915,"color":"rgba(80,80,255,0)"},{"offset":1,"color":"rgba(80,80,255,0)"}
]}},
"encoding":{
"x":{"field":"x","type":"quantitative","axis":{"orient":"top","values":[0,100,200,300,400],"offset":-13,"tickSize":13,"tickWidth":1.3,"tickColor":"#000","domain":false,"grid":false,"labels":false,"title":null,"zindex":1}},
"y":{"field":"BU","type":"quantitative","axis":{"orient":"right","values":[0.8,1.0,1.2,1.4],"offset":-13,"tickSize":13,"tickWidth":1.3,"tickColor":"#000","domain":false,"grid":false,"labels":false,"title":null,"zindex":1}},
"y2":{"field":"BL"}
}},
{"mark":{"type":"line","color":"#000","strokeWidth":2.2},
"encoding":{
"x":{"field":"x","type":"quantitative","axis":{"orient":"top","values":[50,150,250,350],"offset":-7,"tickSize":7,"tickWidth":1.3,"tickColor":"#000","domain":false,"grid":false,"labels":false,"title":null,"zindex":1}},
"y":{"field":"U","type":"quantitative","axis":{"orient":"right","values":[0.9,1.1,1.3],"offset":-7,"tickSize":7,"tickWidth":1.3,"tickColor":"#000","domain":false,"grid":false,"labels":false,"title":null,"zindex":1}}
}},
{"mark":{"type":"line","color":"#000","strokeWidth":2.2},
"encoding":{"x":{"field":"x","type":"quantitative","axis":null},"y":{"field":"L","type":"quantitative","axis":null}}},
{"mark":{"type":"line","color":"#2020ff","strokeWidth":1.3},
"encoding":{"x":{"field":"x","type":"quantitative","axis":null},"y":{"field":"BU","type":"quantitative","axis":null}}},
{"mark":{"type":"line","color":"#2020ff","strokeWidth":1.3},
"encoding":{"x":{"field":"x","type":"quantitative","axis":null},"y":{"field":"BL","type":"quantitative","axis":null}}},
{"data":{"values":[{}]},"mark":{"type":"rule","color":"#000","strokeWidth":2,"strokeDash":[4,2.6]},
"encoding":{"x":{"datum":0,"axis":null},"x2":{"datum":395},"y":{"datum":1.0,"axis":null}}},
{"data":{"values":[{}]},"mark":{"type":"rect","stroke":"#000","strokeWidth":1,"fill":{"gradient":"linear","x1":0,"y1":0,"x2":1.207,"y2":0.512,"stops":[
{"offset":0,"color":"#000"},{"offset":0.015,"color":"#fff"},{"offset":0.085,"color":"#fff"},
{"offset":0.1,"color":"#000"},{"offset":0.115,"color":"#fff"},{"offset":0.185,"color":"#fff"},
{"offset":0.2,"color":"#000"},{"offset":0.215,"color":"#fff"},{"offset":0.285,"color":"#fff"},
{"offset":0.3,"color":"#000"},{"offset":0.315,"color":"#fff"},{"offset":0.385,"color":"#fff"},
{"offset":0.4,"color":"#000"},{"offset":0.415,"color":"#fff"},{"offset":0.485,"color":"#fff"},
{"offset":0.5,"color":"#000"},{"offset":0.515,"color":"#fff"},{"offset":0.585,"color":"#fff"},
{"offset":0.6,"color":"#000"},{"offset":0.615,"color":"#fff"},{"offset":0.685,"color":"#fff"},
{"offset":0.7,"color":"#000"},{"offset":0.715,"color":"#fff"},{"offset":0.785,"color":"#fff"},
{"offset":0.8,"color":"#000"},{"offset":0.815,"color":"#fff"},{"offset":0.885,"color":"#fff"},
{"offset":0.9,"color":"#000"},{"offset":0.915,"color":"#fff"},{"offset":0.985,"color":"#fff"},
{"offset":1,"color":"#000"}
]}},
"encoding":{"x":{"datum":15.3,"axis":null},"x2":{"datum":52.8},"y":{"datum":1.35,"axis":null},"y2":{"datum":1.3136}}},
{"data":{"values":[{}]},"mark":{"type":"rect","fill":{"gradient":"linear","x1":0,"y1":1,"x2":1.2072,"y2":0.4978,"stops":[
{"offset":0,"color":"#4040ff"},{"offset":0.025,"color":"#fff"},{"offset":0.1417,"color":"#fff"},
{"offset":0.1667,"color":"#4040ff"},{"offset":0.1917,"color":"#fff"},{"offset":0.3083,"color":"#fff"},
{"offset":0.3333,"color":"#4040ff"},{"offset":0.3583,"color":"#fff"},{"offset":0.475,"color":"#fff"},
{"offset":0.5,"color":"#4040ff"},{"offset":0.525,"color":"#fff"},{"offset":0.6417,"color":"#fff"},
{"offset":0.6667,"color":"#4040ff"},{"offset":0.6917,"color":"#fff"},{"offset":0.8083,"color":"#fff"},
{"offset":0.8333,"color":"#4040ff"},{"offset":0.8583,"color":"#fff"},{"offset":0.975,"color":"#fff"},
{"offset":1,"color":"#4040ff"}
]}},
"encoding":{"x":{"datum":15.3,"axis":null},"x2":{"datum":52.8},"y":{"datum":1.2713,"axis":null},"y2":{"datum":1.2356}}},
{"data":{"values":[{}]},"mark":{"type":"rect","stroke":"#000","strokeWidth":1,"fill":{"gradient":"linear","x1":0,"y1":0,"x2":1.2072,"y2":0.5022,"stops":[
{"offset":0,"color":"#4040ff"},{"offset":0.025,"color":"rgba(64,64,255,0)"},{"offset":0.1417,"color":"rgba(64,64,255,0)"},
{"offset":0.1667,"color":"#4040ff"},{"offset":0.1917,"color":"rgba(64,64,255,0)"},{"offset":0.3083,"color":"rgba(64,64,255,0)"},
{"offset":0.3333,"color":"#4040ff"},{"offset":0.3583,"color":"rgba(64,64,255,0)"},{"offset":0.475,"color":"rgba(64,64,255,0)"},
{"offset":0.5,"color":"#4040ff"},{"offset":0.525,"color":"rgba(64,64,255,0)"},{"offset":0.6417,"color":"rgba(64,64,255,0)"},
{"offset":0.6667,"color":"#4040ff"},{"offset":0.6917,"color":"rgba(64,64,255,0)"},{"offset":0.8083,"color":"rgba(64,64,255,0)"},
{"offset":0.8333,"color":"#4040ff"},{"offset":0.8583,"color":"rgba(64,64,255,0)"},{"offset":0.975,"color":"rgba(64,64,255,0)"},
{"offset":1,"color":"#4040ff"}
]}},
"encoding":{"x":{"datum":15.3,"axis":null},"x2":{"datum":52.8},"y":{"datum":1.2713,"axis":null},"y2":{"datum":1.2356}}},
{"data":{"values":[{}]},"mark":{"type":"text","text":"R","font":"Liberation Sans","fontWeight":"bold","fontSize":20,"align":"left","baseline":"alphabetic","color":"#000"},"encoding":{"x":{"datum":60.04,"axis":null},"y":{"datum":1.3162,"axis":null}}},
{"data":{"values":[{}]},"mark":{"type":"text","text":"AA","font":"Liberation Sans","fontWeight":"bold","fontSize":14,"align":"left","baseline":"alphabetic","color":"#000"},"encoding":{"x":{"datum":72.39,"axis":null},"y":{"datum":1.3015,"axis":null}}},
{"data":{"values":[{}]},"mark":{"type":"text","text":"y","font":"Liberation Sans","fontWeight":"bold","fontSize":12,"align":"left","baseline":"alphabetic","color":"#000"},"encoding":{"x":{"datum":73.24,"axis":null},"y":{"datum":1.3435,"axis":null}}},
{"data":{"values":[{}]},"mark":{"type":"text","text":"lab","font":"Liberation Sans","fontWeight":"bold","fontSize":7,"align":"left","baseline":"alphabetic","color":"#000"},"encoding":{"x":{"datum":78.78,"axis":null},"y":{"datum":1.3337,"axis":null}}},
{"data":{"values":[{}]},"mark":{"type":"text","text":"=4.3","font":"Liberation Sans","fontWeight":"bold","fontSize":13.5,"align":"left","baseline":"alphabetic","color":"#000"},"encoding":{"x":{"datum":91.13,"axis":null},"y":{"datum":1.3425,"axis":null}}},
{"data":{"values":[{}]},"mark":{"type":"text","text":"/R","font":"Liberation Sans","fontWeight":"bold","fontSize":20,"align":"left","baseline":"alphabetic","color":"#000"},"encoding":{"x":{"datum":114.97,"axis":null},"y":{"datum":1.3162,"axis":null}}},
{"data":{"values":[{}]},"mark":{"type":"text","text":"AA","font":"Liberation Sans","fontWeight":"bold","fontSize":14,"align":"left","baseline":"alphabetic","color":"#000"},"encoding":{"x":{"datum":132.43,"axis":null},"y":{"datum":1.3015,"axis":null}}},
{"data":{"values":[{}]},"mark":{"type":"text","text":"y","font":"Liberation Sans","fontWeight":"bold","fontSize":12,"align":"left","baseline":"alphabetic","color":"#000"},"encoding":{"x":{"datum":133.71,"axis":null},"y":{"datum":1.3435,"axis":null}}},
{"data":{"values":[{}]},"mark":{"type":"text","text":"lab","font":"Liberation Sans","fontWeight":"bold","fontSize":7,"align":"left","baseline":"alphabetic","color":"#000"},"encoding":{"x":{"datum":139.67,"axis":null},"y":{"datum":1.3337,"axis":null}}},
{"data":{"values":[{}]},"mark":{"type":"text","text":"=2.3","font":"Liberation Sans","fontWeight":"bold","fontSize":13.5,"align":"left","baseline":"alphabetic","color":"#000"},"encoding":{"x":{"datum":152.87,"axis":null},"y":{"datum":1.3425,"axis":null}}},
{"data":{"values":[{}]},"mark":{"type":"text","text":"r","font":"Liberation Sans","fontWeight":"bold","fontSize":20,"align":"left","baseline":"alphabetic","color":"#000"},"encoding":{"x":{"datum":62.17,"axis":null},"y":{"datum":1.2382,"axis":null}}},
{"data":{"values":[{}]},"mark":{"type":"text","text":"AA","font":"Liberation Sans","fontWeight":"bold","fontSize":14,"align":"left","baseline":"alphabetic","color":"#000"},"encoding":{"x":{"datum":68.56,"axis":null},"y":{"datum":1.2235,"axis":null}}},
{"data":{"values":[{}]},"mark":{"type":"text","text":"y","font":"Liberation Sans","fontWeight":"bold","fontSize":12,"align":"left","baseline":"alphabetic","color":"#000"},"encoding":{"x":{"datum":68.56,"axis":null},"y":{"datum":1.2655,"axis":null}}},
{"data":{"values":[{}]},"mark":{"type":"text","text":"lab","font":"Liberation Sans","fontWeight":"bold","fontSize":7,"align":"left","baseline":"alphabetic","color":"#000"},"encoding":{"x":{"datum":74.09,"axis":null},"y":{"datum":1.2557,"axis":null}}},
{"data":{"values":[{}]},"mark":{"type":"text","text":"=4.3","font":"Liberation Sans","fontWeight":"bold","fontSize":13.5,"align":"left","baseline":"alphabetic","color":"#000"},"encoding":{"x":{"datum":84.91,"axis":null},"y":{"datum":1.2645,"axis":null}}},
{"data":{"values":[{}]},"mark":{"type":"text","text":"/r","font":"Liberation Sans","fontWeight":"bold","fontSize":20,"align":"left","baseline":"alphabetic","color":"#000"},"encoding":{"x":{"datum":106.46,"axis":null},"y":{"datum":1.2382,"axis":null}}},
{"data":{"values":[{}]},"mark":{"type":"text","text":"AA","font":"Liberation Sans","fontWeight":"bold","fontSize":14,"align":"left","baseline":"alphabetic","color":"#000"},"encoding":{"x":{"datum":117.87,"axis":null},"y":{"datum":1.2235,"axis":null}}},
{"data":{"values":[{}]},"mark":{"type":"text","text":"y","font":"Liberation Sans","fontWeight":"bold","fontSize":12,"align":"left","baseline":"alphabetic","color":"#000"},"encoding":{"x":{"datum":118.38,"axis":null},"y":{"datum":1.2694,"axis":null}}},
{"data":{"values":[{}]},"mark":{"type":"text","text":"lab","font":"Liberation Sans","fontWeight":"bold","fontSize":7,"align":"left","baseline":"alphabetic","color":"#000"},"encoding":{"x":{"datum":124.08,"axis":null},"y":{"datum":1.2596,"axis":null}}},
{"data":{"values":[{}]},"mark":{"type":"text","text":"=2.3","font":"Liberation Sans","fontWeight":"bold","fontSize":13.5,"align":"left","baseline":"alphabetic","color":"#000"},"encoding":{"x":{"datum":134.56,"axis":null},"y":{"datum":1.2684,"axis":null}}},
{"data":{"values":[{}]},"mark":{"type":"text","text":"Fixed Target Pb+Pb E","font":"Liberation Sans","fontWeight":"bold","fontSize":19.3,"align":"left","baseline":"alphabetic","color":"#000"},"encoding":{"x":{"datum":11.92,"axis":null},"y":{"datum":0.7357,"axis":null}}},
{"data":{"values":[{}]},"mark":{"type":"text","text":"lab","font":"Liberation Sans","fontWeight":"bold","fontSize":13,"align":"left","baseline":"alphabetic","color":"#000"},"encoding":{"x":{"datum":183.1,"axis":null},"y":{"datum":0.7176,"axis":null}}},
{"data":{"values":[{}]},"mark":{"type":"text","text":"=2.76A TeV, J/ψ","font":"Liberation Sans","fontWeight":"bold","fontSize":19.3,"align":"left","baseline":"alphabetic","color":"#000"},"encoding":{"x":{"datum":201.8,"axis":null},"y":{"datum":0.7357,"axis":null}}},
{"data":{"values":[{}]},"mark":{"type":"text","text":"N","font":"Liberation Sans","fontWeight":"bold","fontSize":30,"align":"left","baseline":"alphabetic","color":"#000"},"encoding":{"x":{"datum":185.66,"axis":null},"y":{"datum":0.568,"axis":null}}},
{"data":{"values":[{}]},"mark":{"type":"text","text":"part","font":"Liberation Sans","fontWeight":"bold","fontSize":20,"align":"left","baseline":"alphabetic","color":"#000"},"encoding":{"x":{"datum":204.9,"axis":null},"y":{"datum":0.5577,"axis":null}}},
{"data":{"values":[{}]},"mark":{"type":"text","text":"Double Ratio","font":"Liberation Sans","fontWeight":"bold","fontSize":21,"angle":270,"align":"center","baseline":"alphabetic","color":"#000"},"encoding":{"x":{"datum":-54.5,"axis":null},"y":{"datum":1.0328,"axis":null}}}
]
}
